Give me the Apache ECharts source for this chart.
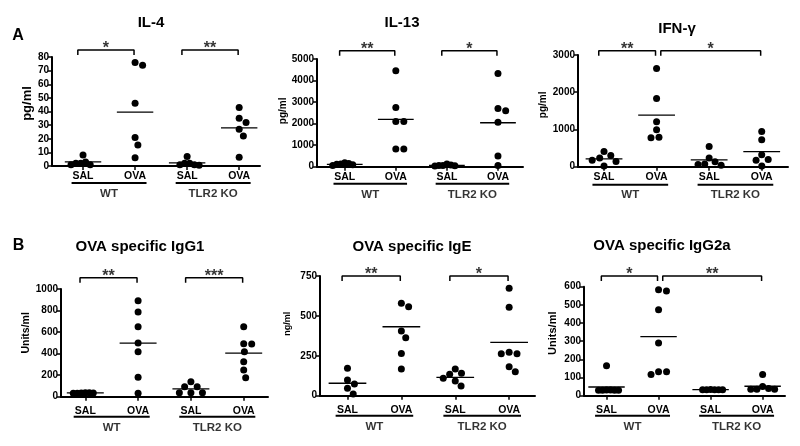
<!DOCTYPE html>
<html><head><meta charset="utf-8">
<script src="https://cdn.jsdelivr.net/npm/echarts@6/dist/echarts.min.js"></script>
<style>html,body{margin:0;padding:0;background:#fff}#c{width:800px;height:446px}</style>
</head><body><div id="c"></div>
<script>
// ---------- DATA ----------
const treatLabels = ['SAL', 'OVA', 'SAL', 'OVA'];
const genotypeLabels = ['WT', 'TLR2 KO'];
const panelTitles = ['IL-4', 'IL-13', 'IFN-γ', 'OVA specific IgG1', 'OVA specific IgE', 'OVA specific IgG2a'];
const panelUnits = ['pg/ml', 'pg/ml', 'pg/ml', 'Units/ml', 'ng/ml', 'Units/ml'];
const panelLetters = ['A', 'B'];
const yMaxes = [80, 5000, 3000, 1000, 750, 600];
const yIntervals = [10, 1000, 1000, 200, 250, 100];

// IL-4 (pg/ml)
const il4WtSal = [8, 3, 2, 2, 1, 1];
const il4WtOva = [76, 74, 46, 21, 15.5, 6];
const il4KoSal = [7, 2, 2, 1, 1, 0.5];
const il4KoOva = [43, 35, 32, 27, 22, 6.5];
const il4Means = [3, 39.5, 2.3, 28];
// IL-13 (pg/ml)
const il13WtSal = [180, 150, 120, 110, 90, 60];
const il13WtOva = [4450, 2750, 2100, 2100, 820, 820];
const il13KoSal = [120, 80, 60, 50, 40, 30];
const il13KoOva = [4330, 2700, 2600, 2060, 500, 60];
const il13Means = [110, 2200, 60, 2040];
// IFN-gamma (pg/ml)
const ifnWtSal = [411, 303, 232, 170, 143, 16];
const ifnWtOva = [2640, 1835, 1210, 995, 790, 780];
const ifnKoSal = [541, 232, 130, 70, 60, 40];
const ifnKoOva = [948, 725, 322, 196, 170, 20];
const ifnMeans = [212, 1385, 185, 405];
// OVA specific IgG1 (Units/ml)
const igg1WtSal = [37, 36, 35, 34, 33, 33];
const igg1WtOva = [892, 786, 650, 498, 418, 180, 31];
const igg1KoSal = [139, 93, 93, 37, 37, 37];
const igg1KoOva = [650, 492, 489, 418, 325, 248, 176];
const igg1Means = [35, 498, 72, 405];
// OVA specific IgE (ng/ml)
const igeWtSal = [172, 98, 73, 46, 11];
const igeWtOva = [579, 558, 405, 363, 265, 167];
const igeKoSal = [167, 140, 134, 109, 92, 61];
const igeKoOva = [673, 554, 272, 263, 263, 182, 150];
const igeMeans = [78, 432, 115, 334];
// OVA specific IgG2a (Units/ml)
const igg2aWtSal = [165, 31, 31, 30, 30, 30, 30];
const igg2aWtOva = [583, 576, 473, 290, 132, 132, 117];
const igg2aKoSal = [34, 33, 33, 33, 33, 33];
const igg2aKoOva = [117, 50, 40, 35, 35, 35];
const igg2aMeans = [48, 325, 33, 52];

// significance comparisons (category numbers 1..4) and stars
const comparisons = [
  [[1, 2], [3, 4]], [[1, 2], [3, 4]], [[1, 2], [2, 4]],
  [[1, 2], [3, 4]], [[1, 2], [3, 4]], [[1, 2], [2, 4]]
];
const starTexts = [
  ['*', '**'], ['**', '*'], ['**', '*'],
  ['**', '***'], ['**', '*'], ['*', '**']
];

const panelGroups = [
  [il4WtSal, il4WtOva, il4KoSal, il4KoOva],
  [il13WtSal, il13WtOva, il13KoSal, il13KoOva],
  [ifnWtSal, ifnWtOva, ifnKoSal, ifnKoOva],
  [igg1WtSal, igg1WtOva, igg1KoSal, igg1KoOva],
  [igeWtSal, igeWtOva, igeKoSal, igeKoOva],
  [igg2aWtSal, igg2aWtOva, igg2aKoSal, igg2aKoOva]
];
const panelMeans = [il4Means, il13Means, ifnMeans, igg1Means, igeMeans, igg2aMeans];

// ---------- LAYOUT (pixels / style) ----------
const layout = [
  {left: 52, top: 57, width: 208, height: 109, xMin: 0.404, xMax: 4.40, nameGap: 17, nameSize: 13, nameShift: 16, tx: 151, ty: 23, br: 7, lab: 5, und: 17, grp: 28},
  {left: 317, top: 59, width: 206, height: 107.7, xMin: 0.457, xMax: 4.49, nameGap: 29, nameSize: 10, nameShift: 4, tx: 402, ty: 23, br: 8.3, lab: 5, und: 17, grp: 28},
  {left: 578, top: 55, width: 210, height: 111.7, xMin: 0.505, xMax: 4.5, nameGap: 30, nameSize: 10, nameShift: 12, tx: 677, ty: 29, br: 4.3, lab: 5, und: 18, grp: 28},
  {left: 61, top: 289, width: 207, height: 107.7, xMin: 0.54, xMax: 4.46, nameGap: 28, nameSize: 10.5, nameShift: 20, tx: 140, ty: 246.7, br: 11.3, lab: 9, und: 20, grp: 31},
  {left: 320, top: 276, width: 215, height: 119.7, xMin: 0.49, xMax: 4.48, nameGap: 28, nameSize: 9, nameShift: 24, tx: 412, ty: 246.7, br: 0, lab: 9, und: 20, grp: 31},
  {left: 584, top: 286.7, width: 201, height: 109, xMin: 0.567, xMax: 4.43, nameGap: 26, nameSize: 11, nameShift: 16, tx: 662, ty: 245.7, br: 10.7, lab: 9, und: 20, grp: 31}
];
const FONT = '"Liberation Sans", Arial, sans-serif';
const DOT = 7;
const SWARM_D = 8;      // collision distance, px
const SWARM_HALF = 12;  // max half-spread of a group, px

function swarm(values, pxPerUnit, d) {
  const order = values.map((v, i) => i).sort((a, b) => values[b] - values[a]);
  const placed = [];
  const out = new Array(values.length).fill(0);
  for (const i of order) {
    const y = values[i] * pxPerUnit;
    const cands = [0];
    const ivs = [];
    for (const p of placed) {
      const dy = Math.abs(p.y - y);
      if (dy < d) {
        const w = Math.sqrt(d * d - dy * dy);
        ivs.push([p.x - w, p.x + w]);
        cands.push(p.x + w, p.x - w);
      }
    }
    cands.sort((a, b) => Math.abs(a) - Math.abs(b) || b - a);
    let x = 0;
    for (const c of cands) {
      if (ivs.every(([l, r]) => c <= l + 1e-6 || c >= r - 1e-6)) { x = c; break; }
    }
    placed.push({x, y});
    out[i] = x;
  }
  const m = Math.max(...out.map(Math.abs));
  if (m > SWARM_HALF) return out.map(v => v * SWARM_HALF / m);
  return out;
}

const grids = [], xAxes = [], yAxes = [], series = [], graphics = [];

function seg(k, pts, width) {
  series.push({
    type: 'line', xAxisIndex: k, yAxisIndex: k, data: pts, symbol: 'none', clip: false,
    silent: true, animation: false, lineStyle: {color: '#000', width: width}, z: 5
  });
}
function txt(k, x, y, text, size, dy) {
  series.push({
    type: 'scatter', xAxisIndex: k, yAxisIndex: k, data: [[x, y]], symbolSize: 1, clip: false,
    silent: true, animation: false, itemStyle: {color: 'rgba(0,0,0,0)'},
    label: {show: true, position: 'inside', offset: [0, dy || 0], formatter: text,
      color: '#000', fontFamily: FONT, fontWeight: 'bold', fontSize: size}
  });
}

panelGroups.forEach((groups, k) => {
  const L = layout[k];
  const yMax = yMaxes[k];
  const uppY = yMax / L.height;          // data units per pixel (y)
  const uppX = (L.xMax - L.xMin) / L.width;
  grids.push({left: L.left, top: L.top, width: L.width, height: L.height, containLabel: false});
  xAxes.push({
    type: 'value', gridIndex: k, min: L.xMin, max: L.xMax,
    axisLine: {show: true, onZero: false, lineStyle: {color: '#000', width: 2}},
    axisTick: {show: true, customValues: [1, 2, 3, 4], length: 4, lineStyle: {color: '#000', width: 1.5}},
    axisLabel: {show: true, customValues: [1, 2, 3, 4], margin: L.lab,
      formatter: v => treatLabels[Math.round(v) - 1] || '',
      color: '#000', fontFamily: FONT, fontWeight: 'bold', fontSize: 10.5},
    splitLine: {show: false}
  });
  yAxes.push({
    type: 'value', gridIndex: k, min: 0, max: yMax, interval: yIntervals[k],
    name: panelUnits[k], nameLocation: 'middle', nameGap: L.nameGap,
    nameTextStyle: {color: '#000', fontFamily: FONT, fontWeight: 'bold', fontSize: L.nameSize, padding: [0, 0, 0, L.nameShift]},
    axisLine: {show: true, lineStyle: {color: '#000', width: 2}},
    axisTick: {show: true, length: 4, lineStyle: {color: '#000', width: 1.5}},
    axisLabel: {margin: 3, color: '#000', fontFamily: FONT, fontWeight: 'bold', fontSize: 10,
      formatter: v => String(v)},
    splitLine: {show: false}
  });

  // dots
  const pts = [];
  groups.forEach((vals, g) => {
    const offs = swarm(vals, 1 / uppY, SWARM_D);
    vals.forEach((v, i) => pts.push([g + 1 + offs[i] * uppX, v]));
  });
  series.push({
    type: 'scatter', xAxisIndex: k, yAxisIndex: k, data: pts, symbol: 'circle', symbolSize: DOT,
    itemStyle: {color: '#000', opacity: 1}, animation: false, clip: false, z: 4
  });

  // mean lines
  panelMeans[k].forEach((m, g) => seg(k, [[g + 1 - 0.35, m], [g + 1 + 0.35, m]], 1.3));

  // brackets + stars
  const yb = yMax + L.br * uppY;
  const tick = 5 * uppY;
  comparisons[k].forEach(([a, b], j) => {
    const x1 = a + (a === 2 ? 0.08 : -0.1);
    const x2 = b - 0.02;
    seg(k, [[x1, yb - tick], [x1, yb], [x2, yb], [x2, yb - tick]], 1.5);
    txt(k, (x1 + x2) / 2, yb, starTexts[k][j], 16, -1);
  });

  // genotype underlines + labels
  [[1, 2], [3, 4]].forEach(([a, b], j) => {
    const yu = -L.und * uppY;
    seg(k, [[a - 0.22, yu], [b + 0.22, yu]], 2);
    txt(k, (a + b) / 2, -L.grp * uppY, genotypeLabels[j], 11.5, 0);
  });

  graphics.push({type: 'text', x: L.tx, y: L.ty, silent: true,
    style: {text: panelTitles[k], fill: '#000', font: 'bold 15px ' + FONT,
      align: 'center', verticalAlign: 'middle', textAlign: 'center', textVerticalAlign: 'middle'}});
});

graphics.push({type: 'text', x: 18, y: 36, silent: true,
  style: {text: panelLetters[0], fill: '#000', font: 'bold 16px ' + FONT,
    align: 'center', verticalAlign: 'middle', textAlign: 'center', textVerticalAlign: 'middle'}});
graphics.push({type: 'text', x: 18.5, y: 245.5, silent: true,
  style: {text: panelLetters[1], fill: '#000', font: 'bold 16px ' + FONT,
    align: 'center', verticalAlign: 'middle', textAlign: 'center', textVerticalAlign: 'middle'}});

const chart = echarts.init(document.getElementById('c'), null, {renderer: 'canvas'});
chart.setOption({
  animation: false,
  backgroundColor: '#fff',
  grid: grids, xAxis: xAxes, yAxis: yAxes, series: series, graphic: graphics
});
</script></body></html>
